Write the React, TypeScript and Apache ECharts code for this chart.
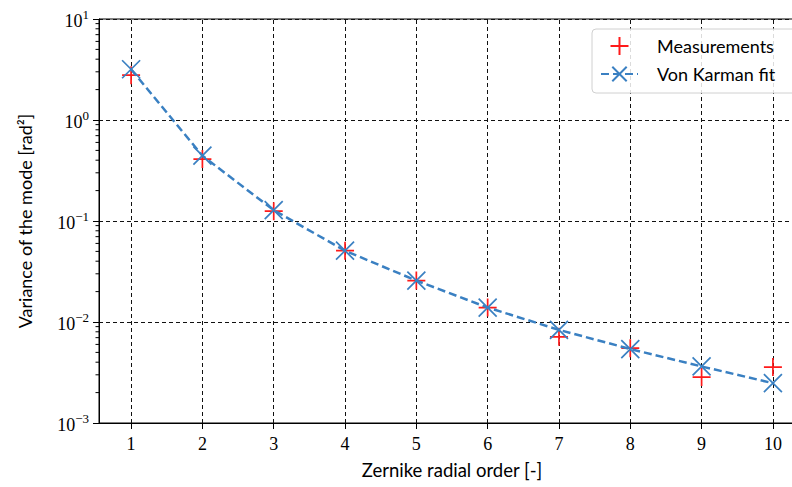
import React, { useEffect, useRef } from "react";
import * as echarts from "echarts";

const orders = [1, 2, 3, 4, 5, 6, 7, 8, 9, 10];
const measurements = [2.78, 0.41, 0.125, 0.0508, 0.0257, 0.0139, 0.00713, 0.0055, 0.00285, 0.00358];
const vonKarmanFit = [3.18, 0.443, 0.128, 0.0508, 0.0257, 0.0139, 0.00836, 0.0054, 0.00363, 0.00248];
const xTicks = [1, 2, 3, 4, 5, 6, 7, 8, 9, 10];
const minorTicks: number[] = [];
[0.001, 0.01, 0.1, 1].forEach((d) => {
  [2, 3, 4, 5, 6, 7, 8, 9].forEach((m) => minorTicks.push(+(m * d).toPrecision(3)));
});

const PLUS = "path://M0,9 L18,9 M9,0 L9,18";
const CROSS = "path://M0,0 L18,18 M18,0 L0,18";
const RED = "#ff1a1a";
const BLUE = "#3a80c2";
const SERIF = "'Liberation Serif', 'DejaVu Serif', serif";
const SANS = "Lato, 'Noto Sans', sans-serif";

export default function App() {
  const ref = useRef<HTMLDivElement>(null);
  useEffect(() => {
    const chart = echarts.init(ref.current!, null, { renderer: "svg" });
    const XMIN = 0.55;
    chart.setOption({
      animation: false,
      grid: { left: 99, top: 19, width: 706, height: 404, show: true, borderColor: "#000", borderWidth: 1, backgroundColor: "transparent" },
      legend: {
        left: 592,
        top: 29,
        orient: "vertical",
        padding: [7, 30, 10, 8],
        itemWidth: 37,
        itemHeight: 18,
        itemGap: 9,
        borderColor: "#d0d0d0",
        borderWidth: 1,
        borderRadius: 4,
        backgroundColor: "rgba(255,255,255,0.85)",
        data: ["Measurements", "Von Karman fit"],
        textStyle: { fontFamily: SANS, fontSize: 18, color: "#000", padding: [0, 0, 0, 14] },
      },
      xAxis: {
        type: "value",
        min: XMIN,
        max: 10.45,
        name: "Zernike radial order [-]",
        nameLocation: "middle",
        nameGap: 37,
        nameTextStyle: { fontFamily: SANS, fontSize: 18.5, color: "#000" },
        axisLine: { show: true, onZero: false, lineStyle: { color: "#000", width: 1 } },
        axisTick: { show: true, length: 6, customValues: xTicks, lineStyle: { color: "#000" } },
        axisLabel: { customValues: xTicks, margin: 12, fontFamily: SERIF, fontSize: 18, color: "#000" },
        splitLine: { show: false },
      },
      yAxis: {
        type: "log",
        logBase: 10,
        min: 0.001,
        max: 10,
        name: "Variance of the mode [rad²]",
        nameLocation: "middle",
        nameGap: 65,
        nameTextStyle: { fontFamily: SANS, fontSize: 18, color: "#000" },
        axisLine: { show: true, lineStyle: { color: "#000", width: 1 } },
        axisTick: { show: true, length: 6, lineStyle: { color: "#000" } },
        axisLabel: {
          margin: 10,
          formatter: (v: number) => {
            const e = Math.round(Math.log10(v));
            return "{b|10}{s|" + (e < 0 ? "\u2212" + -e : String(e)) + "}";
          },
          rich: {
            b: { fontFamily: SERIF, fontSize: 18, color: "#000", lineHeight: 22, verticalAlign: "bottom" },
            s: { fontFamily: SERIF, fontSize: 13, color: "#000", lineHeight: 22, verticalAlign: "top" },
          },
        },
        splitLine: { show: true, lineStyle: { color: "#111", type: [4, 3], width: 1 } },
      },
      series: [
        {
          name: "minorTicks",
          type: "custom",
          silent: true,
          clip: false,
          data: minorTicks.map((v) => [XMIN, v]),
          renderItem: (params: any, api: any) => {
            const p = api.coord([api.value(0), api.value(1)]);
            return {
              type: "line",
              shape: { x1: p[0] - 3.5, y1: p[1], x2: p[0], y2: p[1] },
              style: { stroke: "#000", lineWidth: 1 },
            };
          },
        },
        {
          name: "Von Karman fit",
          type: "line",
          data: orders.map((o, i) => [o, vonKarmanFit[i]]),
          symbol: CROSS,
          symbolSize: 18,
          lineStyle: { color: BLUE, width: 2.5, type: [8, 4] },
          itemStyle: { color: "rgba(0,0,0,0)", borderColor: BLUE, borderWidth: 1.7 },
          z: 3,
          markLine: {
            silent: true,
            symbol: "none",
            label: { show: false },
            lineStyle: { color: "#111", type: [4, 3], width: 1 },
            data: xTicks.map((t) => ({ xAxis: t })),
            z: 1,
          },
        },
        {
          name: "Measurements",
          type: "scatter",
          data: orders.map((o, i) => [o, measurements[i]]),
          symbol: PLUS,
          symbolSize: 18,
          itemStyle: { color: "rgba(0,0,0,0)", borderColor: RED, borderWidth: 1.7, opacity: 1 },
          z: 2,
        },
      ],
    });
    return () => chart.dispose();
  }, []);
  return (
    <div style={{ position: "absolute", left: 0, top: 0, width: 792, height: 487, overflow: "hidden", background: "#fff" }}>
      <div ref={ref} style={{ width: 808, height: 487 }} />
    </div>
  );
}
